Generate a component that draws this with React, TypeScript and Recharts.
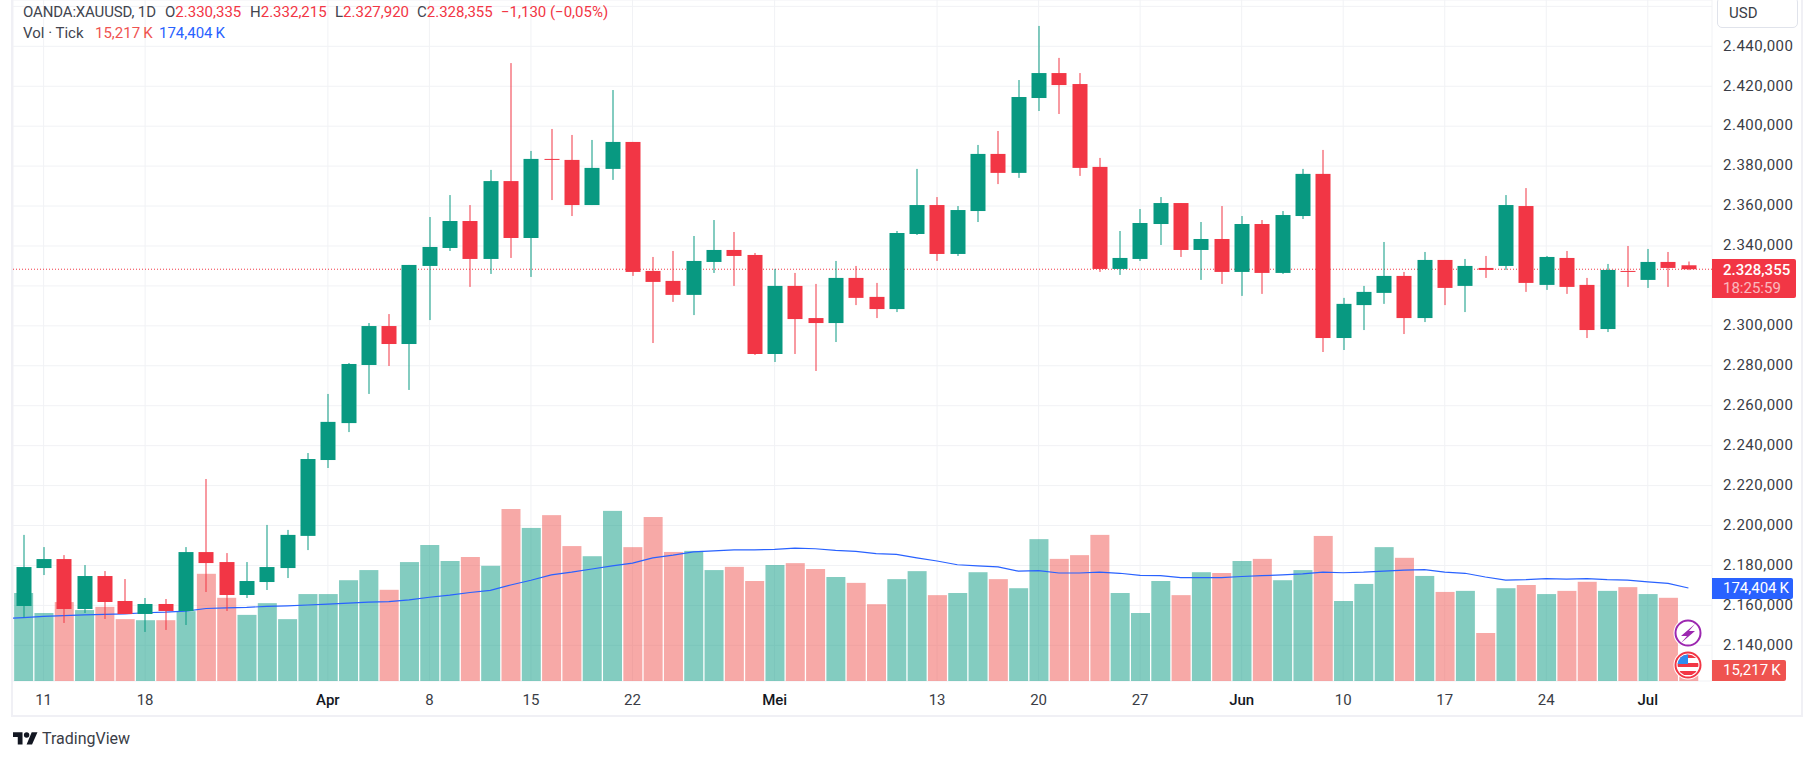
import {
  Bar,
  CartesianGrid,
  ComposedChart,
  Line,
  ReferenceLine,
  XAxis,
  YAxis,
} from 'recharts';

const UP = '#089981';
const DOWN = '#f23645';
const FONT = 'Roboto, sans-serif';

// OANDA:XAUUSD daily candles, 8 Mar to 3 Jul
const opens = [
  2159.7, 2178.7, 2183.2, 2158.2, 2174.7, 2162.2, 2155.7, 2160.7, 2157.2, 2186.7,
  2181.7, 2165.2, 2171.7, 2178.7, 2194.8, 2232.8, 2251.3, 2280.4, 2299.9, 2290.9,
  2330.0, 2339.0, 2352.5, 2333.5, 2372.5, 2344.0, 2383.6, 2383.1, 2360.5, 2378.6,
  2392.1, 2327.5, 2322.5, 2315.5, 2332.0, 2338.0, 2335.5, 2285.9, 2320.0, 2303.9,
  2301.4, 2324.0, 2314.5, 2308.4, 2346.0, 2360.5, 2336.0, 2357.5, 2386.1, 2376.6,
  2414.1, 2426.6, 2421.1, 2379.6, 2328.5, 2333.5, 2351.0, 2361.5, 2338.0, 2343.5,
  2327.0, 2351.0, 2326.5, 2355.0, 2376.1, 2293.9, 2310.4, 2316.5, 2325.0, 2303.9,
  2333.0, 2320.0, 2329.0, 2330.0, 2360.0, 2320.5, 2334.0, 2320.5, 2298.4, 2327.5,
  2323.0, 2332.0, 2330.335,
];
const highs = [
  2195.3, 2189.2, 2185.2, 2180.2, 2177.2, 2173.2, 2163.7, 2163.2, 2189.2, 2223.3,
  2186.2, 2181.7, 2200.3, 2197.8, 2236.3, 2265.9, 2281.4, 2301.4, 2305.9, 2330.5,
  2354.5, 2365.5, 2360.5, 2378.1, 2431.6, 2387.6, 2398.6, 2395.6, 2393.1, 2418.1,
  2392.1, 2334.5, 2337.5, 2345.0, 2353.0, 2347.0, 2336.5, 2328.5, 2326.5, 2321.0,
  2332.5, 2330.0, 2321.5, 2347.5, 2378.6, 2364.5, 2360.0, 2390.6, 2397.6, 2423.1,
  2450.2, 2434.2, 2426.6, 2384.1, 2347.5, 2358.5, 2364.5, 2361.5, 2352.0, 2360.0,
  2355.0, 2353.0, 2357.5, 2378.6, 2388.1, 2314.0, 2320.0, 2342.0, 2327.0, 2337.0,
  2333.0, 2333.5, 2335.0, 2365.5, 2369.0, 2335.0, 2337.5, 2324.0, 2331.0, 2340.0,
  2338.5, 2337.0, 2332.215,
];
const lows = [
  2154.0, 2175.2, 2151.2, 2156.2, 2153.2, 2155.7, 2146.7, 2147.7, 2150.2, 2166.7,
  2157.2, 2163.7, 2167.7, 2173.7, 2187.7, 2228.8, 2246.8, 2265.9, 2279.9, 2267.9,
  2302.9, 2337.5, 2319.5, 2326.0, 2334.0, 2324.5, 2363.0, 2355.0, 2360.5, 2373.1,
  2325.0, 2291.4, 2312.0, 2305.4, 2326.5, 2320.0, 2285.4, 2281.9, 2285.9, 2277.4,
  2291.9, 2310.4, 2303.9, 2306.9, 2345.5, 2332.5, 2335.0, 2352.0, 2371.0, 2374.1,
  2407.6, 2406.1, 2375.1, 2327.0, 2325.5, 2332.5, 2340.5, 2334.5, 2323.0, 2321.0,
  2315.0, 2316.0, 2326.0, 2353.5, 2286.9, 2287.9, 2297.9, 2311.0, 2295.9, 2301.9,
  2310.4, 2306.9, 2324.0, 2328.0, 2317.0, 2318.0, 2316.0, 2293.9, 2296.9, 2319.5,
  2319.0, 2319.5, 2327.92,
];
const closes = [
  2179.2, 2183.2, 2158.2, 2174.7, 2161.7, 2155.7, 2160.7, 2157.2, 2186.7, 2181.2,
  2165.2, 2172.2, 2179.2, 2195.3, 2233.3, 2251.9, 2280.9, 2299.9, 2290.9, 2330.5,
  2339.5, 2352.5, 2333.5, 2372.5, 2344.0, 2383.6, 2383.1, 2360.5, 2379.1, 2392.1,
  2327.0, 2322.0, 2315.5, 2332.5, 2338.0, 2335.0, 2285.9, 2320.0, 2303.4, 2301.4,
  2324.0, 2314.0, 2308.4, 2346.5, 2360.5, 2336.0, 2358.0, 2386.1, 2376.6, 2414.6,
  2426.6, 2420.6, 2379.1, 2328.5, 2334.0, 2351.5, 2361.5, 2338.0, 2343.5, 2327.0,
  2351.0, 2326.5, 2355.5, 2376.1, 2293.9, 2311.0, 2317.0, 2325.0, 2303.9, 2333.0,
  2319.0, 2330.0, 2328.0, 2360.5, 2321.5, 2334.5, 2319.5, 2297.9, 2328.0, 2327.0,
  2332.0, 2329.0, 2328.355,
];
// tick volume, in thousands
const volumes = [
  165, 127.5, 148, 133, 139, 116, 114, 114, 131, 201,
  156, 124, 146, 116, 163, 163, 189, 208, 171, 223,
  255, 225, 232.5, 216, 322.5, 287, 311, 253, 234, 319,
  251, 307.5, 242, 244, 208, 214, 187.5, 217.5, 221, 210,
  195, 184, 144, 191, 206, 161, 165, 204, 191, 174,
  266, 229, 236, 274, 165, 127.5, 187.5, 161, 204, 202.5,
  225, 229, 189, 208, 272, 150, 182, 251, 231, 197,
  167, 169, 90, 174, 180, 163, 169, 186, 169, 176,
  163, 156, 15.217,
];
// moving average of the volume; starts one session before the first candle
const volumeMa = [
  117, 119, 121, 122.5, 124, 125, 126, 128, 129, 131, 136,
  137, 138, 140, 141, 142.5, 144, 146, 148, 149, 152,
  157, 161, 166, 170, 180, 189, 199, 204, 210, 216,
  221, 231, 236, 242, 244, 246, 246, 247, 249, 248,
  245, 243, 239, 237.5, 231, 225, 218, 216, 214, 206,
  207, 202.5, 202.5, 204, 202, 198, 197.5, 194, 194, 194,
  196, 197.5, 199, 201, 204, 203, 204, 206, 208, 209,
  204, 202, 195, 189, 190, 192, 191, 192, 190, 189,
  186, 183, 174.404,
];

const dateTicks = [1, 6, 15, 20, 25, 30, 37, 45, 50, 55, 60, 65, 70, 75, 80];
const dateLabels = ['11', '18', 'Apr', '8', '15', '22', 'Mei', '13', '20', '27', 'Jun', '10', '17', '24', 'Jul'];
const monthLabels = ['Apr', 'Mei', 'Jun', 'Jul'];
const priceTicks = [2140, 2160, 2180, 2200, 2220, 2240, 2260, 2280, 2300, 2320, 2340, 2360, 2380, 2400, 2420, 2440, 2460];
// these two grid lines keep no label: the USD box and the price tag cover them
const unlabelledPrices = [2320, 2460];
const lastPrice = 2328.355;

const rows = opens.map((open, i) => ({
  idx: i,
  open,
  high: highs[i],
  low: lows[i],
  close: closes[i],
  volume: volumes[i],
}));
const maRows = volumeMa.map((ma, i) => ({ idx: i - 1, ma }));

const formatPrice = (value: number) => {
  if (unlabelledPrices.includes(value)) return '';
  const text = value.toFixed(3);
  return `${text[0]}.${text.slice(1, 4)},${text.slice(5)}`;
};

function Candle(props: any) {
  const { x, y, width, height, payload } = props;
  const { open, high, low, close } = payload;
  const yOf = (price: number) => y + ((high - price) / (high - low)) * height;
  const top = yOf(Math.max(open, close));
  const bottom = yOf(Math.min(open, close));
  const color = close >= open ? UP : DOWN;
  const center = Math.round(x + width / 2);
  return (
    <g>
      <rect x={center - 0.5} y={y} width={1} height={height} fill={color} />
      <rect x={center - 7.5} y={top} width={15} height={Math.max(bottom - top, 1)} fill={color} />
    </g>
  );
}

function VolumeBar(props: any) {
  const { x, y, width, height, payload } = props;
  const color = payload.close >= payload.open ? UP : '#ef5350';
  return <rect x={x} y={y} width={width} height={height} fill={color} fillOpacity={0.5} />;
}

function DateTick(props: any) {
  const { x, y, payload } = props;
  const label = dateLabels[dateTicks.indexOf(payload.value)];
  const isMonth = monthLabels.includes(label);
  return (
    <text
      x={x}
      y={y + 16}
      textAnchor="middle"
      fontFamily={FONT}
      fontSize={15}
      fontWeight={isMonth ? 500 : 400}
      fill={isMonth ? '#131722' : '#3a3d46'}
    >
      {label}
    </text>
  );
}

function Tag({ top, width, height, color, children }: any) {
  return (
    <div
      style={{
        position: 'absolute',
        left: 1712,
        top,
        width,
        height,
        background: color,
        color: '#fff',
        borderRadius: '0 2px 2px 0',
        fontSize: 15,
        lineHeight: `${height}px`,
        paddingLeft: 11,
        boxSizing: 'border-box',
      }}
    >
      {children}
    </div>
  );
}

export default function App() {
  return (
    <div
      style={{
        position: 'absolute',
        left: 0,
        top: 0,
        width: 1815,
        height: 760,
        background: '#fff',
        overflow: 'hidden',
        fontFamily: FONT,
      }}
    >
      <ComposedChart
        width={1815}
        height={760}
        data={rows}
        margin={{ top: 0, right: 13, bottom: 45, left: 13 }}
      >
        <CartesianGrid xAxisId="dates" yAxisId="price" stroke="#f1f2f5" strokeWidth={1} />
        <XAxis
          xAxisId="dates"
          dataKey="idx"
          type="number"
          domain={[-0.507, 83.162]}
          allowDataOverflow
          ticks={dateTicks}
          interval={0}
          height={34}
          axisLine={false}
          tickLine={false}
          tick={<DateTick />}
        />
        <XAxis
          xAxisId="volumeDates"
          dataKey="idx"
          type="number"
          domain={[-0.507, 83.162]}
          allowDataOverflow
          hide
        />
        <YAxis
          yAxisId="price"
          orientation="right"
          type="number"
          domain={[2122.13, 2463.19]}
          allowDataOverflow
          ticks={priceTicks}
          interval={0}
          width={90}
          axisLine={false}
          tickLine={false}
          tickMargin={5}
          tickFormatter={formatPrice}
          tick={{ fontSize: 15, fontFamily: FONT, fill: '#3a3d46', letterSpacing: 0.5, dy: -1 }}
        />
        <YAxis yAxisId="volume" type="number" domain={[0, 1277]} allowDataOverflow hide />

        <Bar
          xAxisId="volumeDates"
          yAxisId="volume"
          dataKey="volume"
          barSize={19}
          shape={<VolumeBar />}
          isAnimationActive={false}
        />
        <ReferenceLine
          xAxisId="dates"
          yAxisId="price"
          y={lastPrice}
          stroke={DOWN}
          strokeWidth={1}
          strokeDasharray="1 2"
        />
        <Line
          xAxisId="volumeDates"
          yAxisId="volume"
          data={maRows}
          dataKey="ma"
          stroke="#2962ff"
          strokeWidth={1.2}
          dot={false}
          type="linear"
          isAnimationActive={false}
        />
        <Bar
          xAxisId="dates"
          yAxisId="price"
          dataKey={(d: any) => [d.low, d.high]}
          barSize={15}
          shape={<Candle />}
          isAnimationActive={false}
          {...({ zIndex: 500 } as any)}
        />
      </ComposedChart>

      {/* frame of the TradingView widget */}
      <div
        style={{
          position: 'absolute',
          left: 11,
          top: 0,
          width: 1792,
          height: 717,
          boxSizing: 'border-box',
          borderLeft: '2px solid #f0f0f5',
          borderRight: '2px solid #f0f0f5',
          borderBottom: '2px solid #f0f0f5',
          pointerEvents: 'none',
        }}
      />

      {/* legend */}
      <div style={{ position: 'absolute', left: 23, top: 3, fontSize: 15, lineHeight: '18px', color: '#42454f', whiteSpace: 'nowrap', letterSpacing: -0.15 }}>
        OANDA:XAUUSD, 1D
      </div>
      {[
        [165, 'O', '2.330,335'],
        [250, 'H', '2.332,215'],
        [335, 'L', '2.327,920'],
        [417, 'C', '2.328,355'],
      ].map(([left, letter, value]) => (
        <div key={letter} style={{ position: 'absolute', left: left as number, top: 3, fontSize: 15, lineHeight: '18px', color: DOWN, whiteSpace: 'nowrap' }}>
          <span style={{ color: '#42454f' }}>{letter}</span>
          {value}
        </div>
      ))}
      <div style={{ position: 'absolute', left: 501, top: 3, fontSize: 15, lineHeight: '18px', color: DOWN, whiteSpace: 'nowrap' }}>
        −1,130 (−0,05%)
      </div>
      <div style={{ position: 'absolute', left: 23, top: 24, fontSize: 15, lineHeight: '18px', color: '#42454f', whiteSpace: 'nowrap' }}>
        Vol · Tick
      </div>
      <div style={{ position: 'absolute', left: 95, top: 24, fontSize: 15, lineHeight: '18px', color: '#ef5350', whiteSpace: 'nowrap' }}>
        15,217{'\u2009'}K
      </div>
      <div style={{ position: 'absolute', left: 159, top: 24, fontSize: 15, lineHeight: '18px', color: '#2962ff', whiteSpace: 'nowrap' }}>
        174,404{'\u2009'}K
      </div>

      {/* currency box */}
      <div
        style={{
          position: 'absolute',
          left: 1717,
          top: -3,
          width: 81,
          height: 31,
          boxSizing: 'border-box',
          background: '#fff',
          border: '1px solid #e0e3eb',
          borderRadius: 5,
          fontSize: 15,
          lineHeight: '30px',
          paddingLeft: 11,
          color: '#3a3d46',
        }}
      >
        USD
      </div>

      {/* axis tags */}
      <div
        style={{
          position: 'absolute',
          left: 1712,
          top: 259,
          width: 84,
          height: 39,
          background: DOWN,
          borderRadius: '0 2px 2px 0',
          paddingLeft: 11,
          boxSizing: 'border-box',
          fontSize: 15,
          lineHeight: '18px',
          paddingTop: 2,
          color: '#fff',
        }}
      >
        <div style={{ fontWeight: 500 }}>2.328,355</div>
        <div style={{ opacity: 0.65 }}>18:25:59</div>
      </div>
      <Tag top={578} width={81} height={21} color="#2962ff">174,404{'\u2009'}K</Tag>
      <Tag top={660} width={74} height={21} color="#ef5350">15,217{'\u2009'}K</Tag>

      {/* event markers and logo */}
      <svg
        width={1815}
        height={760}
        style={{ position: 'absolute', left: 0, top: 0, pointerEvents: 'none' }}
      >
        <circle cx={1688} cy={633} r={14.5} fill="#fff" />
        <circle cx={1688} cy={633} r={12.5} fill="#fff" stroke="#9c27b0" strokeWidth={2} />
        <path d="M1695 624 L1681 636 L1687 636 L1681 643 L1695 631 L1689 631 Z" fill="#9c27b0" />
        <circle cx={1688} cy={665} r={14.5} fill="#fff" />
        <clipPath id="flagClip">
          <circle cx={1688} cy={665} r={10.5} />
        </clipPath>
        <g clipPath="url(#flagClip)">
          <rect x={1676} y={653} width={24} height={24} fill="#fff" />
          <rect x={1676} y={654} width={24} height={4} fill="#f23645" />
          <rect x={1676} y={663} width={24} height={4} fill="#f23645" />
          <rect x={1676} y={671} width={24} height={4} fill="#f23645" />
          <rect x={1676} y={653} width={12} height={11} fill="#2f8cf0" />
        </g>
        <circle cx={1688} cy={665} r={12.5} fill="none" stroke="#f23645" strokeWidth={2} />
        <g transform="translate(13 731) scale(0.68)" fill="#131722">
          <path d="M14 20H7V9H0V2h14v18zM28 20h-8l7.5-18H36l-8 18z" />
          <circle cx={20} cy={6} r={4} />
        </g>
        <text x={42} y={744} fontFamily={FONT} fontSize={16} fill="#3a3d46">
          TradingView
        </text>
      </svg>
    </div>
  );
}
